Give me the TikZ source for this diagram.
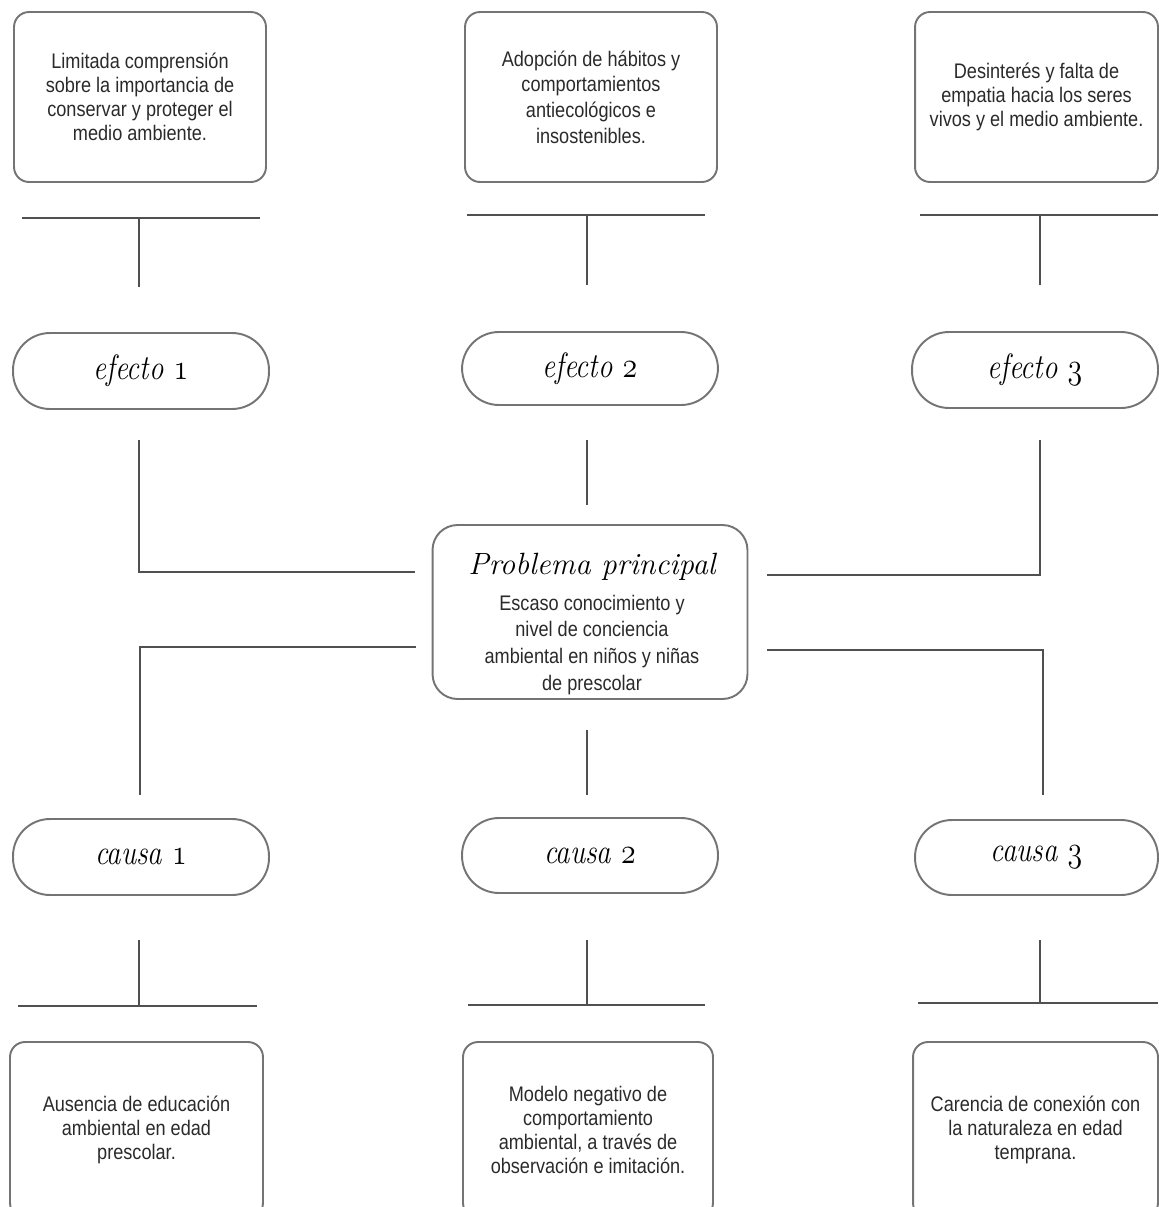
\documentclass[tikz,border=0pt]{standalone}
\usepackage{fontspec}
\usepackage{graphicx}
\newfontfamily\bodyfont{Liberation Sans}[FakeStretch=0.86]
\definecolor{boxgray}{HTML}{747474}
\definecolor{linegray}{HTML}{505050}
\definecolor{textgray}{HTML}{2A2A2A}

\begin{document}
\begin{tikzpicture}[x=0.02cm, y=-0.02cm,
   textbox/.style={draw=boxgray, line width=1.1pt, rounded corners=0.3cm,
       minimum width=5.04cm, minimum height=3.4cm, inner sep=0pt,
       align=center, text=textgray, font=\bodyfont\fontsize{12}{13.6}\selectfont},
   pill/.style={draw=boxgray, line width=1.1pt, rounded corners=0.74cm,
       minimum width=5.12cm, minimum height=1.52cm, inner sep=0pt,
       text=black, font=\fontsize{20}{23}\selectfont\itshape},
   link/.style={draw=linegray, line width=0.9pt}]

   % Frame of the page
   \useasboundingbox (0,0) rectangle (1159,1207);
   \clip (0,0) rectangle (1159,1207);

   % Effects
   \node[textbox] (t1) at (140,97) {Limitada comprensión\\ sobre la importancia de\\ conservar y proteger el\\ medio ambiente.};
   \node[textbox, font=\bodyfont\fontsize{12}{14.6}\selectfont] (t2) at (591,97) {Adopción de hábitos y\\ comportamientos\\ antiecológicos e\\ insostenibles.};
   \node[textbox, minimum width=4.86cm] (t3) at (1036.5,97) {Desinterés y falta de\\ empatia hacia los seres\\ vivos y el medio ambiente.};

   \node[pill] (e1) at (141,371) {\scalebox{0.82}[1]{efecto {\usefont{OML}{lmm}{m}{it}1}}};
   \node[pill, minimum height=1.46cm] (e2) at (590,368.5) {\scalebox{0.82}[1]{efecto {\usefont{OML}{lmm}{m}{it}2}}};
   \node[pill, minimum width=4.92cm] (e3) at (1035,370) {\scalebox{0.82}[1]{efecto {\usefont{OML}{lmm}{m}{it}3}}};

   % Main problem
   \node[draw=boxgray, line width=1.1pt, rounded corners=0.5cm,
         minimum width=6.3cm, minimum height=3.48cm] (prob) at (590,612) {};
   \node[align=center, text=textgray, inner sep=0pt,
         font=\bodyfont\fontsize{12}{15.2}\selectfont] (probtxt) at (592,624)
         {{\fontsize{17.5}{18}\selectfont\normalfont\itshape\color{black}Problema principal}\\[5pt]
          Escaso conocimiento y\\ nivel de conciencia\\ ambiental en niños y niñas\\ de prescolar};

   % Causes
   \node[pill] (c1) at (141,857) {\scalebox{0.82}[1]{causa {\usefont{OML}{lmm}{m}{it}1}}};
   \node[pill, minimum height=1.5cm] (c2) at (590,855.5) {\scalebox{0.82}[1]{causa {\usefont{OML}{lmm}{m}{it}2}}};
   \node[pill, minimum width=4.86cm, minimum height=1.5cm] (c3) at (1036.5,857.5) {\scalebox{0.82}[1]{causa {\usefont{OML}{lmm}{m}{it}3}}};

   \node[textbox, minimum width=5.06cm, minimum height=3.52cm] (b1) at (136.5,1130) {Ausencia de educación\\ ambiental en edad\\ prescolar.};
   \node[textbox, minimum width=5cm, minimum height=3.52cm] (b2) at (588,1130) {Modelo negativo de\\ comportamiento\\ ambiental, a través de\\ observación e imitación.};
   \node[textbox, minimum width=4.9cm, minimum height=3.52cm] (b3) at (1035.5,1130) {Carencia de conexión con\\ la naturaleza en edad\\ temprana.};

   % T-bars under the effect texts
   \foreach \n/\xm/\xl/\xr/\yh/\yv in {1/139/22/260/218/287, 2/587/467/705/215/285, 3/1040/920/1158/215/285} {
       \coordinate (tl\n) at (\xl,\yh);
       \coordinate (tr\n) at (\xr,\yh);
       \coordinate (tm\n) at (\xm,\yh);
       \coordinate (tb\n) at (\xm,\yv);
       \draw[link] (tl\n) -- (tr\n) (tm\n) -- (tb\n);
   }

   % T-bars above the cause texts
   \foreach \n/\xm/\xl/\xr/\yh/\yv in {1/139/18/257/1006/940, 2/587/468/705/1005/940, 3/1040/918/1158/1003/940} {
       \coordinate (bl\n) at (\xl,\yh);
       \coordinate (br\n) at (\xr,\yh);
       \coordinate (bm\n) at (\xm,\yh);
       \coordinate (bt\n) at (\xm,\yv);
       \draw[link] (bl\n) -- (br\n) (bm\n) -- (bt\n);
   }

   % Links to the main problem
   \coordinate (e1a) at (139,440);
   \coordinate (e1b) at (139,572);
   \coordinate (e1c) at (415,572);
   \coordinate (e2a) at (587,440);
   \coordinate (e2b) at (587,505);
   \coordinate (e3a) at (1040,440);
   \coordinate (e3b) at (1040,575);
   \coordinate (e3c) at (767,575);
   \draw[link] (e1a) -- (e1b) -- (e1c);
   \draw[link] (e2a) -- (e2b);
   \draw[link] (e3a) -- (e3b) -- (e3c);

   \coordinate (c1a) at (416,647);
   \coordinate (c1b) at (140,647);
   \coordinate (c1c) at (140,795);
   \coordinate (c2a) at (587,730);
   \coordinate (c2b) at (587,795);
   \coordinate (c3a) at (767,650);
   \coordinate (c3b) at (1043,650);
   \coordinate (c3c) at (1043,795);
   \draw[link] (c1a) -- (c1b) -- (c1c);
   \draw[link] (c2a) -- (c2b);
   \draw[link] (c3a) -- (c3b) -- (c3c);
\end{tikzpicture}
\end{document}
